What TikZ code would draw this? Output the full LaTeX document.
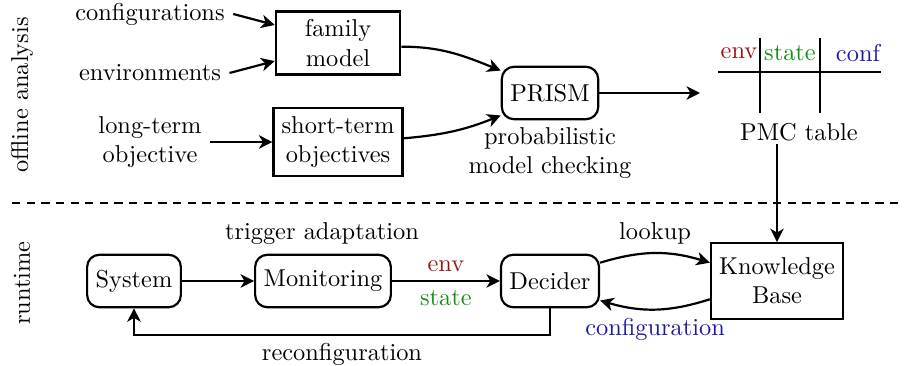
\documentclass[tikz,border=0pt]{standalone}
\usetikzlibrary{arrows.meta}
\definecolor{envc}{RGB}{150,20,20}
\definecolor{statec}{RGB}{25,140,25}
\definecolor{confc}{RGB}{25,25,160}
\begin{document}
\begin{tikzpicture}[x=0.41pt,y=-0.41pt,
  >={Stealth[length=5.5pt,width=5.5pt,inset=1.6pt]},
  rbox/.style={draw,line width=0.9pt,rounded corners=5pt,minimum height=21.5pt,inner xsep=3.5pt},
  sbox/.style={draw,line width=0.9pt,align=center},
  conn/.style={line width=0.9pt,->},
  lab/.style={align=center},
  tline/.style={line width=0.5pt}]
\useasboundingbox (0,0) rectangle (904,366);

% offline part
\node[rotate=90] (off) at (22,95) {offline analysis};
\node[rotate=90] (rt) at (22,283) {runtime};
\node (cfg) at (150,14) {configurations};
\node (envs) at (150,73) {environments};
\node[sbox,minimum width=51pt] (fam) at (338,43) {family\\model};
\node[lab] (lto) at (150,142) {long-term\\objective};
\node[sbox] (sto) at (338,142) {short-term\\objectives};
\node[rbox] (prism) at (550,93) {PRISM};
\node[lab] (pmc) at (550,153) {probabilistic\\model checking};
\coordinate (tin) at (700,93);

\draw[conn] (cfg.east) -- ([yshift=7.4pt]fam.west);
\draw[conn] (envs.east) -- ([yshift=-7.4pt]fam.west);
\draw[conn] (lto.east) -- (sto.west);
\draw[conn] ([yshift=-1.5pt]fam.east) to[out=0,in=158] ([yshift=-2pt]prism.north west);
\draw[conn] ([yshift=1.5pt]sto.east) to[out=5,in=202] ([yshift=2pt]prism.south west);
\draw[conn] (prism.east) -- (tin);

% table
\coordinate (h1) at (718,72);
\coordinate (h2) at (881,72);
\coordinate (v1t) at (760,38);
\coordinate (v1b) at (760,113);
\coordinate (v2t) at (820,38);
\coordinate (v2b) at (820,113);
\draw[tline] (h1) -- (h2);
\draw[tline] (v1t) -- (v1b);
\draw[tline] (v2t) -- (v2b);
\node[text=envc] (tenv) at (739,53) {env};
\node[text=statec] (tstate) at (790,53) {state};
\node[text=confc] (tconf) at (858,53) {conf};
\node (pmct) at (799,132) {PMC table};

% separator
\coordinate (d1) at (12,203);
\coordinate (d2) at (900,203);
\draw[line width=0.9pt,dash pattern=on 3.4pt off 2.6pt] (d1) -- (d2);

% runtime part
\node (trig) at (322,234) {trigger adaptation};
\node[rbox] (sys) at (134,281) {System};
\node[rbox] (mon) at (323,281) {Monitoring};
\node[rbox] (dec) at (550,281) {Decider};
\node[sbox,minimum height=31pt] (kb) at (777,281) {Knowledge\\Base};

\draw[conn] (kb.north |- pmct.south) ++(0,-5) -- (kb.north);
\draw[conn] (sys) -- (mon);
\draw[conn] (mon) -- node[above,text=envc] {env} node[below,text=statec] {state} (dec);
\draw[conn] ([yshift=7.5pt]dec.east) to[bend left=17] node[above] (look) {lookup} ([yshift=7.5pt]kb.west);
\draw[conn] ([yshift=-7.5pt]kb.west) to[bend left=17] node[below,text=confc] (cnf) {configuration} ([yshift=-8pt]dec.east);
\draw[conn] (dec.south) -- (dec.south |- 0,335) -| (sys.south);
\node (reconf) at (342,354) {reconfiguration};
\end{tikzpicture}
\end{document}
